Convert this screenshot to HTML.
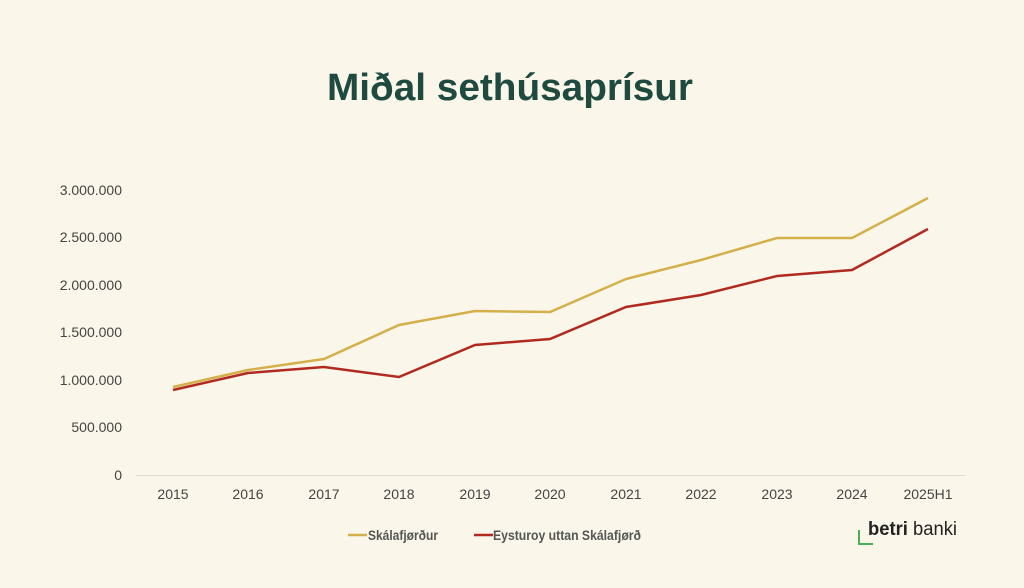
<!DOCTYPE html>
<html><head><meta charset="utf-8"><style>
body{margin:0;background:#fbf6ea;}
svg{display:block;font-family:"Liberation Sans",Arial,sans-serif;}
</style></head><body>
<svg width="1024" height="588" viewBox="0 0 1024 588">
<rect width="1024" height="588" fill="#fbf6ea"/>
<text x="510" y="100" text-anchor="middle" font-size="38" font-weight="bold" fill="#1e4a40" textLength="366" lengthAdjust="spacingAndGlyphs">Miðal sethúsaprísur</text>
<g stroke="#e3ddd0" stroke-width="1"><line x1="136" y1="475.5" x2="965" y2="475.5"/></g>
<g font-size="14" fill="#444" text-anchor="end">
<text x="122" y="195">3.000.000</text><text x="122" y="242">2.500.000</text><text x="122" y="290">2.000.000</text><text x="122" y="337">1.500.000</text><text x="122" y="385">1.000.000</text><text x="122" y="432">500.000</text><text x="122" y="480">0</text>
</g>
<g font-size="14" fill="#444" text-anchor="middle">
<text x="173" y="499">2015</text><text x="248" y="499">2016</text><text x="324" y="499">2017</text><text x="399" y="499">2018</text><text x="475" y="499">2019</text><text x="550" y="499">2020</text><text x="626" y="499">2021</text><text x="701" y="499">2022</text><text x="777" y="499">2023</text><text x="852" y="499">2024</text><text x="928" y="499">2025H1</text>
</g>
<polyline fill="none" stroke="#d4b04a" stroke-width="2.5" points="173,387 248,370 324,359 399,325 475,311 550,312 626,279 701,260 777,238 852,238 928,198"/>
<polyline fill="none" stroke="#b02a20" stroke-width="2.5" points="173,390 248,373 324,367 399,377 475,345 550,339 626,307 701,295 777,276 852,270 928,229"/>
<line x1="348" y1="535" x2="367" y2="535" stroke="#d4b04a" stroke-width="2.5"/>
<text x="368" y="540" font-size="14" font-weight="bold" fill="#555" textLength="70" lengthAdjust="spacingAndGlyphs">Skálafjørður</text>
<line x1="474" y1="535" x2="493" y2="535" stroke="#b02a20" stroke-width="2.5"/>
<text x="493" y="540" font-size="14" font-weight="bold" fill="#555" textLength="148" lengthAdjust="spacingAndGlyphs">Eysturoy uttan Skálafjørð</text>
<path d="M859 530 V544 H873" fill="none" stroke="#4caf50" stroke-width="2"/>
<text x="868" y="535" font-size="19" fill="#222" textLength="89" lengthAdjust="spacingAndGlyphs"><tspan font-weight="bold">betri</tspan> banki</text>
</svg>
</body></html>
